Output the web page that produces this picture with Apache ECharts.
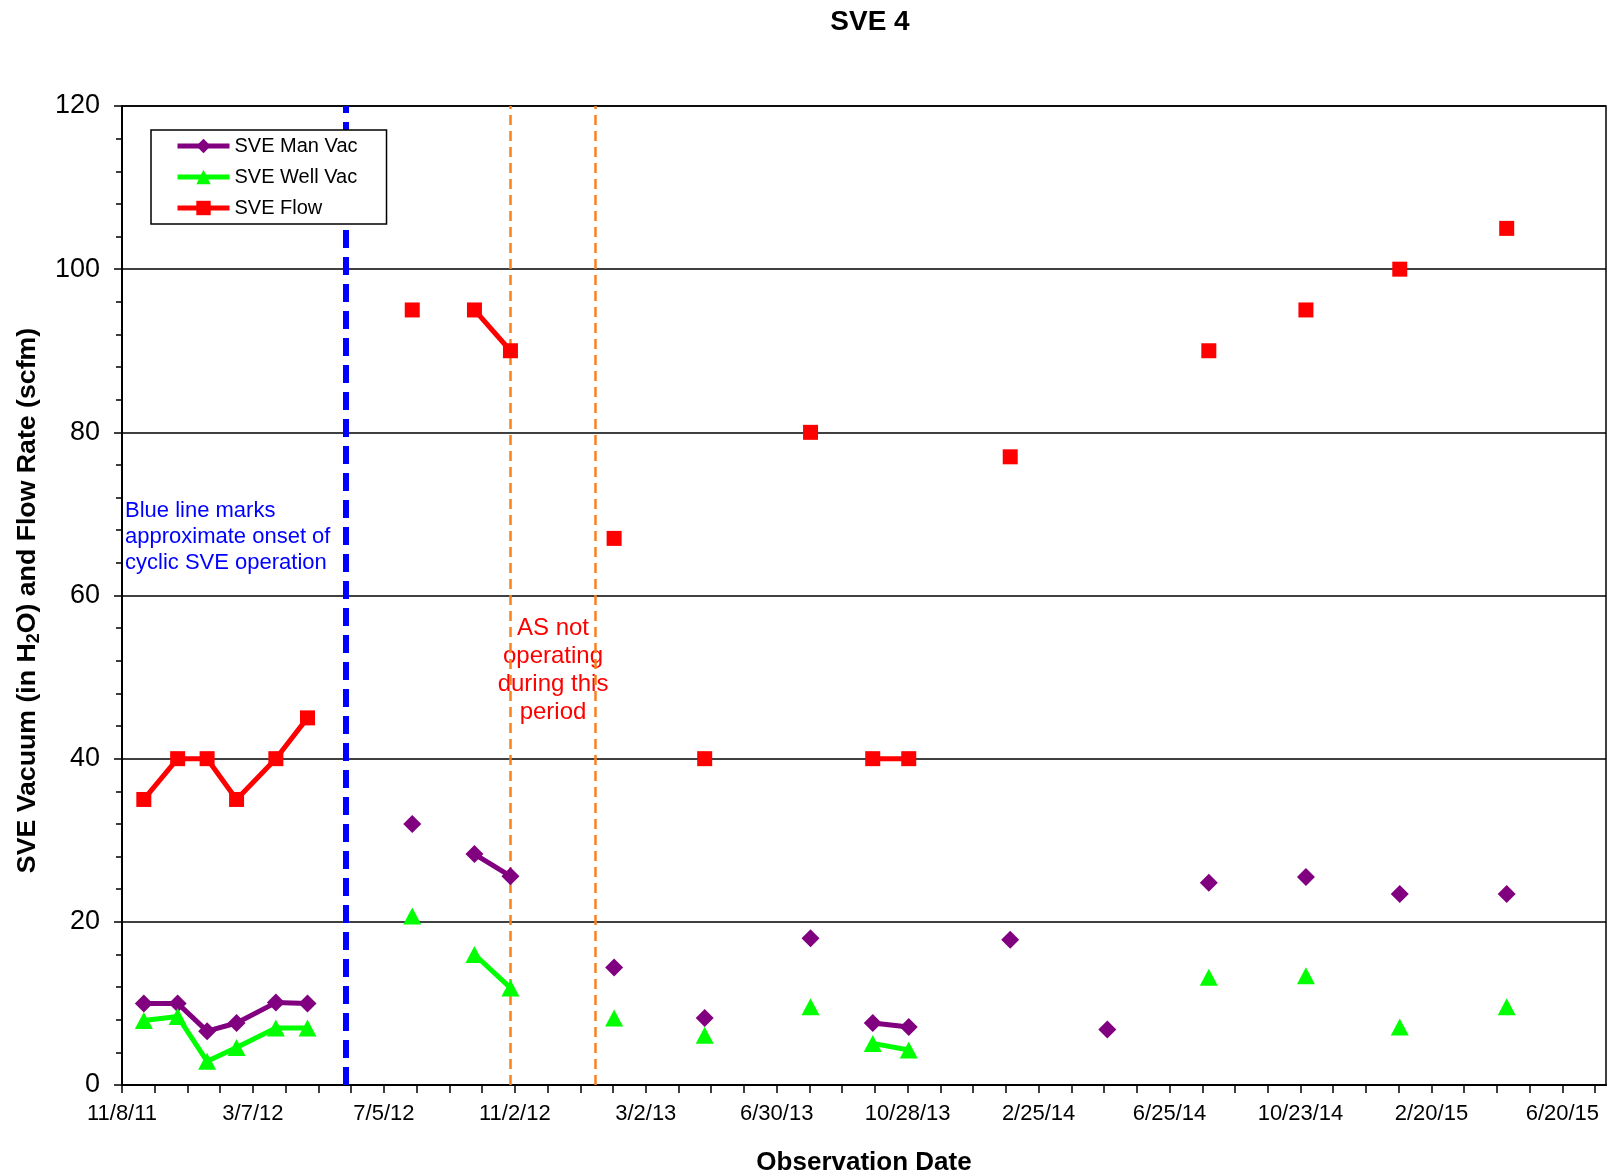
<!DOCTYPE html>
<html><head><meta charset="utf-8">
<script src="https://cdn.jsdelivr.net/npm/echarts@6/dist/echarts.min.js"></script>
<style>html,body{margin:0;padding:0;background:#fff}#c{width:1615px;height:1176px}</style>
</head><body><div id="c"></div>
<script>
// ---- data ----
const dates = ['2011-11-28','2011-12-29','2012-01-25','2012-02-21','2012-03-28','2012-04-26',
  '2012-07-31','2012-09-26','2012-10-29','2013-02-01','2013-04-25','2013-07-31',
  '2013-09-26','2013-10-29','2014-01-30','2014-04-29','2014-07-31','2014-10-28',
  '2015-01-22','2015-04-30'];
// rows with the same segment id are joined by a line
const segments = [0,0,0,0,0,0, 1, 2,2, 3, 4, 5, 6,6, 7, 8, 9, 10, 11, 12];
const manVac  = [10.0,10.0,6.6,7.6,10.1,10.0, 32.0, 28.3,25.6, 14.4, 8.2, 18.0, 7.6,7.1, 17.8, 6.8, 24.8, 25.5, 23.4, 23.4];
const wellVac = [7.9,8.4,2.9,4.6,7.0,7.0, 20.7, 16.0,11.9, 8.2, 6.1, 9.6, 5.1,4.3, null, null, 13.2, 13.4, 7.1, 9.6];
const flow    = [35,40,40,35,40,45, 95, 95,90, 67, 40, 80, 40,40, 77, null, 90, 95, 100, 105];
const axisStart = '2011-11-08';
const axisEndDays = 1360;
const tickIntervalDays = 120;
const minorTickDays = 30;
const cyclicOnset = '2012-05-31';
const asOffPeriod = ['2012-10-29','2013-01-15'];
const yTicks = {min:0, max:120, interval:20};

const FONT = 'Liberation Sans, Arial, sans-serif';
const base = (() => { const [y,m,d] = axisStart.split('-').map(Number); return Date.UTC(y,m-1,d); })();
function dayNum(s){ const [y,m,d] = s.split('-').map(Number); return Math.round((Date.UTC(y,m-1,d)-base)/86400000); }
function fmt(v){ const t = new Date(base + v*86400000); return (t.getUTCMonth()+1)+'/'+t.getUTCDate()+'/'+String(t.getUTCFullYear()).slice(2); }
function build(vals){
  const out = [];
  for (let i=0;i<dates.length;i++){
    if (i>0 && segments[i]!==segments[i-1]) out.push(['-','-']);
    out.push([dayNum(dates[i]), vals[i]==null ? '-' : vals[i]]);
  }
  return out;
}
const majorTicks = []; for (let v=0; v<=axisEndDays; v+=tickIntervalDays) majorTicks.push(v);
const allTicks = []; for (let v=0; v<=axisEndDays; v+=minorTickDays) allTicks.push(v);

const chart = echarts.init(document.getElementById('c'), null, {renderer:'canvas'});
chart.setOption({
  animation:false,
  backgroundColor:'#fff',
  textStyle:{fontFamily:FONT},
  title:{text:'SVE 4', left:870, textAlign:'center', top:8, padding:0,
    textStyle:{fontSize:28, fontWeight:'bold', color:'#000', fontFamily:FONT}},
  legend:{
    orient:'vertical', left:151, top:130, align:'left',
    padding:[5,29,5,24], itemGap:9, itemWidth:52, itemHeight:18, itemTextGap:2,
    borderColor:'#000', borderWidth:1.5, backgroundColor:'#fff',
    lineStyle:{width:5},
    textStyle:{fontSize:20, color:'#000', fontFamily:FONT, lineHeight:22},
    data:['SVE Man Vac','SVE Well Vac','SVE Flow']
  },
  grid:{left:122, right:9, top:106, bottom:91, show:true, borderColor:'#000', borderWidth:1.5,
    backgroundColor:'transparent', containLabel:false, outerBoundsMode:'none'},
  xAxis:{
    type:'value', min:0, max:axisEndDays, interval:tickIntervalDays,
    axisLine:{show:true, onZero:false, lineStyle:{color:'#000', width:2}},
    axisTick:{show:true, length:8, lineStyle:{color:'#000', width:1.5}, customValues:allTicks},
    axisLabel:{customValues:majorTicks, formatter:fmt, fontSize:22, color:'#000', margin:18, fontFamily:FONT},
    splitLine:{show:false},
    name:'Observation Date', nameLocation:'middle', nameGap:65,
    nameTextStyle:{fontSize:26, fontWeight:'bold', color:'#000', fontFamily:FONT}
  },
  yAxis:{
    type:'value', min:yTicks.min, max:yTicks.max, interval:yTicks.interval,
    axisLine:{show:true, lineStyle:{color:'#000', width:2}},
    axisTick:{show:true, length:8, lineStyle:{color:'#000', width:1.5}},
    minorTick:{show:true, splitNumber:5, length:6, lineStyle:{color:'#000', width:1.5}},
    axisLabel:{fontSize:27, color:'#000', margin:22, fontFamily:FONT},
    splitLine:{show:true, lineStyle:{color:'#000', width:1.5}},
    name:'{a|SVE Vacuum (in H}{s|2}{a|O) and Flow Rate (scfm)}',
    nameLocation:'middle', nameRotate:90, nameGap:79,
    nameTextStyle:{color:'#000', fontFamily:FONT, padding:[0,10,0,0],
      rich:{a:{fontSize:26.7, fontWeight:'bold', color:'#000', fontFamily:FONT, lineHeight:30},
            s:{fontSize:18, fontWeight:'bold', color:'#000', fontFamily:FONT, lineHeight:18, verticalAlign:'bottom', padding:[10,0,0,0]}}}
  },
  series:[
    {name:'SVE Man Vac', type:'line', data:build(manVac), symbol:'diamond', symbolSize:18,
     lineStyle:{color:'#800080', width:5}, itemStyle:{color:'#800080'}, connectNulls:false, z:3},
    {name:'SVE Well Vac', type:'line', data:build(wellVac), symbol:'triangle', symbolSize:[18,17],
     lineStyle:{color:'#00FF00', width:5}, itemStyle:{color:'#00FF00'}, connectNulls:false, z:3},
    {name:'SVE Flow', type:'line', data:build(flow), symbol:'rect', symbolSize:15,
     lineStyle:{color:'#FF0000', width:5}, itemStyle:{color:'#FF0000'}, connectNulls:false, z:3,
     markLine:{silent:true, symbol:'none', label:{show:false}, z:2,
       data:[
         {xAxis:dayNum(cyclicOnset), lineStyle:{color:'#0000FF', width:6, type:[18,9]}},
         {xAxis:dayNum(asOffPeriod[0]), lineStyle:{color:'#F5821F', width:2.5, type:[10,6]}},
         {xAxis:dayNum(asOffPeriod[1]), lineStyle:{color:'#F5821F', width:2.5, type:[10,6]}}
       ]},
     markArea:{silent:true, itemStyle:{color:'rgba(0,0,0,0)'},
       data:[
         [{xAxis:0, yAxis:61.15,
           label:{show:true, position:'insideLeft', distance:3, color:'#0000FF', fontSize:22, lineHeight:26, fontFamily:FONT, align:'left',
             formatter:'Blue line marks\napproximate onset of\ncyclic SVE operation'}},
          {xAxis:dayNum(cyclicOnset), yAxis:73.15}],
         [{xAxis:dayNum(asOffPeriod[0]), yAxis:44.9,
           label:{show:true, position:'inside', color:'#FF0000', fontSize:24, lineHeight:28, fontFamily:FONT, align:'center',
             formatter:'AS not\noperating\nduring this\nperiod'}},
          {xAxis:dayNum(asOffPeriod[1]), yAxis:56.78}]
       ]}
    }
  ]
});
</script></body></html>
